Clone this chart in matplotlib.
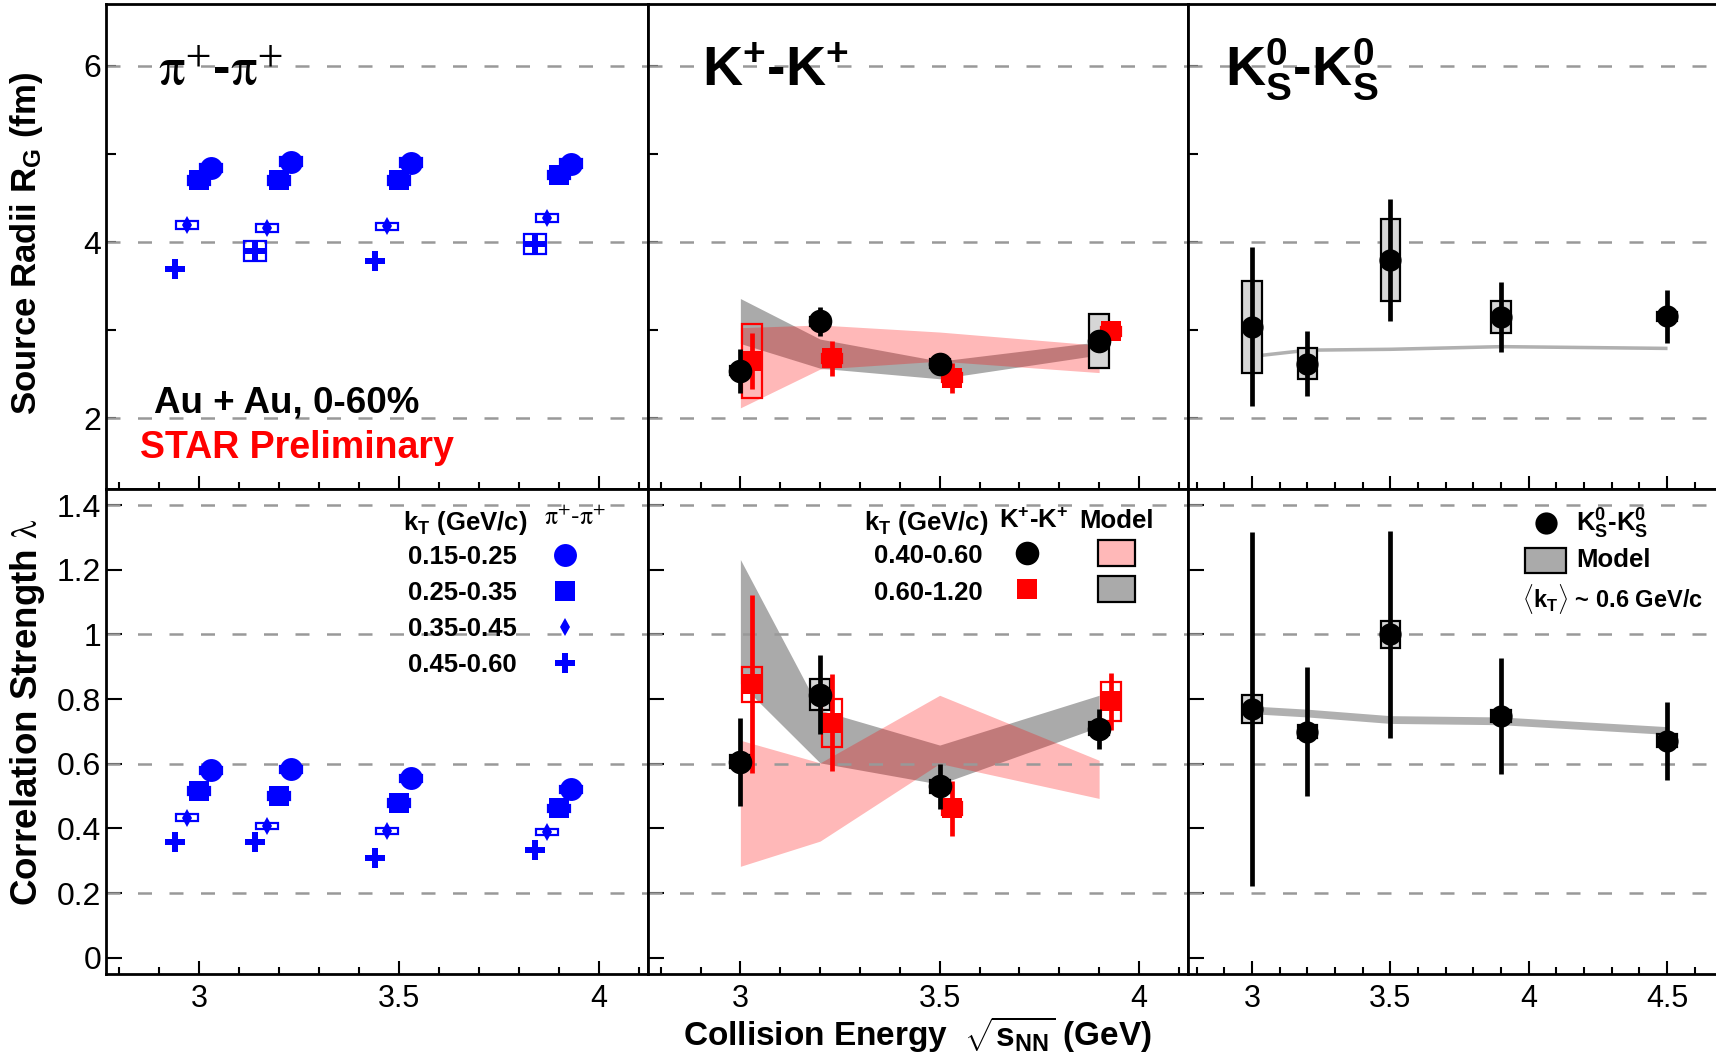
import numpy as np
import matplotlib.pyplot as plt
from matplotlib.patches import Rectangle

plt.rcParams['font.family'] = ['Liberation Sans', 'DejaVu Sans']
plt.rcParams['mathtext.fontset'] = 'custom'
plt.rcParams['mathtext.rm'] = 'Liberation Sans:bold'
plt.rcParams['mathtext.it'] = 'Liberation Sans:bold:italic'
plt.rcParams['mathtext.bf'] = 'Liberation Sans:bold'
plt.rcParams['mathtext.sf'] = 'Liberation Sans:bold'

# collision energies (GeV)
energy = np.array([3.0, 3.2, 3.5, 3.9])
energy_k0 = np.array([3.0, 3.2, 3.5, 3.9, 4.5])

# pi+pi+ : kT bins, source radius R_G (fm) and lambda
kt_pi = ['0.15-0.25', '0.25-0.35', '0.35-0.45', '0.45-0.60']
pi_R_1 = [4.84, 4.91, 4.90, 4.89]
pi_R_2 = [4.70, 4.70, 4.70, 4.76]
pi_R_3 = [4.19, 4.16, 4.18, 4.27]
pi_R_4 = [3.69, 3.90, 3.79, 3.98]
pi_R_sys_1 = [0.05, 0.05, 0.05, 0.05]
pi_R_sys_2 = [0.05, 0.05, 0.05, 0.05]
pi_R_sys_3 = [0.045, 0.045, 0.04, 0.045]
pi_R_sys_4 = [0.0, 0.11, 0.0, 0.11]
pi_L_1 = [0.580, 0.583, 0.555, 0.521]
pi_L_2 = [0.515, 0.501, 0.479, 0.462]
pi_L_3 = [0.434, 0.408, 0.393, 0.389]
pi_L_4 = [0.359, 0.359, 0.309, 0.332]
pi_L_sys_1 = [0.01, 0.01, 0.01, 0.01]
pi_L_sys_2 = [0.012, 0.012, 0.012, 0.012]
pi_L_sys_3 = [0.010, 0.010, 0.010, 0.010]
pi_L_sys_4 = [0.0, 0.0, 0.0, 0.0]

# K+K+ : kT 0.40-0.60 (black) and 0.60-1.20 (red)
kt_k = ['0.40-0.60', '0.60-1.20']
kb_R = [2.54, 3.10, 2.62, 2.88]
kb_R_stat = [0.25, 0.165, 0.10, 0.08]
kb_R_sys = [0.05, 0.05, 0.05, 0.31]
kr_R = [2.65, 2.68, 2.46, 2.99]
kr_R_stat = [0.32, 0.20, 0.17, 0.08]
kr_R_sys = [0.42, 0.05, 0.05, 0.05]
kb_L = [0.606, 0.814, 0.531, 0.709]
kb_L_stat = [0.137, 0.122, 0.07, 0.062]
kb_L_sys = [0.02, 0.047, 0.02, 0.02]
kr_L = [0.846, 0.727, 0.462, 0.794]
kr_L_stat = [0.275, 0.15, 0.084, 0.088]
kr_L_sys = [0.054, 0.075, 0.02, 0.06]

# K+K+ model bands
mod_lo_R_lo = [2.12, 2.56, 2.65, 2.52]   # kT 0.40-0.60
mod_lo_R_hi = [3.03, 3.06, 2.98, 2.83]
mod_hi_R_lo = [2.85, 2.57, 2.45, 2.72]   # kT 0.60-1.20
mod_hi_R_hi = [3.36, 2.90, 2.65, 2.87]
mod_lo_L_lo = [0.283, 0.361, 0.601, 0.493]
mod_lo_L_hi = [0.673, 0.603, 0.812, 0.611]
mod_hi_L_lo = [0.848, 0.603, 0.537, 0.714]
mod_hi_L_hi = [1.232, 0.766, 0.658, 0.812]

# K0s K0s
k0_R = [3.04, 2.62, 3.80, 3.15, 3.16]
k0_R_stat = [0.90, 0.37, 0.69, 0.40, 0.30]
k0_R_sys = [0.52, 0.175, 0.465, 0.177, 0.05]
k0_L = [0.769, 0.699, 1.00, 0.748, 0.671]
k0_L_stat = [0.548, 0.199, 0.319, 0.179, 0.12]
k0_L_sys = [0.043, 0.02, 0.042, 0.02, 0.02]
k0_R_model = [2.71, 2.78, 2.79, 2.82, 2.80]
k0_L_model = [0.767, 0.757, 0.737, 0.733, 0.703]

W, H = 1716, 1052
fig = plt.figure(figsize=(W / 100, H / 100), dpi=100)


def px(x):
    return x / W


def py(y):
    return 1 - y / H


cols = [(105.5, 542), (647.5, 540.5), (1188, 541)]
rows = [(4, 485), (489, 485)]
xlims = [(2.766, 4.122), (2.767, 4.123), (2.769, 4.724)]
xmajor = [[3, 3.5, 4], [3, 3.5, 4], [3, 3.5, 4, 4.5]]

axes = [[None] * 3 for _ in range(2)]
for r, (top, h) in enumerate(rows):
    for c, (left, w) in enumerate(cols):
        ax = fig.add_axes([px(left), py(top + h), w / W, h / H])
        ax.set_xlim(*xlims[c])
        if r == 0:
            ax.set_ylim(1.2, 6.7)
            ax.set_yticks([2, 3, 4, 5, 6])
            ax.set_yticklabels(['2', '', '4', '', '6'] if c == 0 else [''] * 5)
            ylen = 7.5
            grid = [2, 4, 6]
        else:
            ax.set_ylim(-0.05, 1.45)
            yt = [0, 0.2, 0.4, 0.6, 0.8, 1.0, 1.2, 1.4]
            ax.set_yticks(yt)
            ax.set_yticklabels(['0', '0.2', '0.4', '0.6', '0.8', '1', '1.2', '1.4']
                               if c == 0 else [''] * len(yt))
            ylen = 11.5
            grid = [0.2, 0.6, 1.0, 1.4]
        ax.set_xticks(xmajor[c])
        ax.set_xticklabels([('%g' % v) for v in xmajor[c]] if r == 1 else [''] * len(xmajor[c]))
        ax.set_xticks(np.round(np.arange(2.8, xlims[c][1], 0.1), 2), minor=True)
        ax.tick_params(axis='x', which='major', direction='in', length=9.5, width=1.5,
                       top=False, labelsize=22, pad=7)
        ax.tick_params(axis='x', which='minor', direction='in', length=5, width=1.5, top=False)
        ax.tick_params(axis='y', which='major', direction='in', length=ylen, width=1.5,
                       right=False, labelsize=23, pad=3)
        for s in ax.spines.values():
            s.set_linewidth(2)
        for g in grid:
            ax.axhline(g, color='#999999', lw=1.8, dashes=(5.6, 7.0), zorder=2)
        axes[r][c] = ax


def draw_sys(ax, x, y, dy, half, edge, face='none', z=3):
    for xi, yi, di in zip(x, y, dy):
        if di > 0:
            ax.add_patch(Rectangle((xi - half, yi - di), 2 * half, 2 * di,
                                   facecolor=face, edgecolor=edge, lw=1.6, zorder=z))


# pi+pi+ panels
pi_shift = [0.03, 0.0, -0.03, -0.06]
pi_marks = [('o', 16.5), ('s', 14.4), ('d', 9.2), ('P', 14.4)]
pi_R = [pi_R_1, pi_R_2, pi_R_3, pi_R_4]
pi_R_sys = [pi_R_sys_1, pi_R_sys_2, pi_R_sys_3, pi_R_sys_4]
pi_L = [pi_L_1, pi_L_2, pi_L_3, pi_L_4]
pi_L_sys = [pi_L_sys_1, pi_L_sys_2, pi_L_sys_3, pi_L_sys_4]
for (mk, ms), dx, rv, rs, lv, ls in zip(pi_marks, pi_shift, pi_R, pi_R_sys, pi_L, pi_L_sys):
    xs = energy + dx
    draw_sys(axes[0][0], xs, rv, rs, 0.027, 'blue')
    draw_sys(axes[1][0], xs, lv, ls, 0.027, 'blue')
    axes[0][0].plot(xs, rv, mk, ms=ms, color='blue', mew=0, zorder=4)
    axes[1][0].plot(xs, lv, mk, ms=ms, color='blue', mew=0, zorder=4)

# K+K+ panels
kpanels = [
    (axes[0][1], kb_R, kb_R_stat, kb_R_sys, kr_R, kr_R_stat, kr_R_sys,
     mod_lo_R_lo, mod_lo_R_hi, mod_hi_R_lo, mod_hi_R_hi),
    (axes[1][1], kb_L, kb_L_stat, kb_L_sys, kr_L, kr_L_stat, kr_L_sys,
     mod_lo_L_lo, mod_lo_L_hi, mod_hi_L_lo, mod_hi_L_hi),
]
for ax, bv, bst, bsy, rv, rst, rsy, plo, phi, glo, ghi in kpanels:
    ax.fill_between(energy, glo, ghi, color='#aaaaaa', lw=0, zorder=1)
    ax.fill_between(energy, plo, phi, color='red', alpha=0.28, lw=0, zorder=1.5)
    draw_sys(ax, energy, bv, bsy, 0.025, 'black', '#d6d6d6')
    draw_sys(ax, energy + 0.03, rv, rsy, 0.025, 'red')
    ax.errorbar(energy + 0.03, rv, yerr=rst, fmt='s', ms=15, color='red', mew=0,
                elinewidth=3.4, capsize=0, zorder=4)
    ax.errorbar(energy, bv, yerr=bst, fmt='o', ms=17, color='black', mew=0,
                elinewidth=3.4, capsize=0, zorder=5)

# K0s K0s panels
for ax, v, st, sy, mod, hw in [(axes[0][2], k0_R, k0_R_stat, k0_R_sys, k0_R_model, 0.02),
                               (axes[1][2], k0_L, k0_L_stat, k0_L_sys, k0_L_model, 0.012)]:
    mod = np.array(mod)
    ax.fill_between(energy_k0, mod - hw, mod + hw, color='#b0b0b0', lw=0, zorder=1)
    draw_sys(ax, energy_k0, v, sy, 0.035, 'black', '#d6d6d6')
    ax.errorbar(energy_k0, v, yerr=st, fmt='o', ms=16, color='black', mew=0,
                elinewidth=3.4, capsize=0, zorder=5)

# panel titles and labels
fig.text(px(158), py(85), r'$\mathrm{\pi}^{+}$-$\mathrm{\pi}^{+}$', fontsize=38,
         fontweight='bold', math_fontfamily='stix', va='baseline')
fig.text(px(702), py(85), r'K$^{+}$-K$^{+}$', fontsize=40, fontweight='bold', va='baseline')
fig.text(px(1225), py(86), r'$\mathrm{K}^{0}_{\mathrm{S}}$-$\mathrm{K}^{0}_{\mathrm{S}}$',
         fontsize=40, fontweight='bold', va='baseline')
fig.text(px(154), py(413), 'Au + Au, 0-60%', fontsize=26.5, fontweight='bold', va='baseline')
fig.text(px(140), py(458), 'STAR Preliminary', fontsize=27, fontweight='bold',
         color='red', va='baseline')

fig.text(px(27), py(244), r'Source Radii R$_{\mathrm{G}}$ (fm)', fontsize=25,
         fontweight='bold', rotation=90, ha='center', va='center')
fig.text(px(28), py(712), r'Correlation Strength $\mathrm{\lambda}$', fontsize=26.5,
         fontweight='bold', rotation=90, ha='center', va='center', math_fontfamily='stix')
fig.text(px(918), py(1046), r'Collision Energy  $\sqrt{\mathrm{s}_{\mathrm{NN}}}$ (GeV)',
         fontsize=24, fontweight='bold', ha='center', va='baseline')

# pi+pi+ legend
lfs = 18.5
fig.text(px(403), py(530), r'k$_{\mathrm{T}}$ (GeV/c)', fontsize=lfs, fontweight='bold',
         va='baseline')
fig.text(px(544), py(525), r'$\mathrm{\pi}^{+}$-$\mathrm{\pi}^{+}$', fontsize=lfs,
         math_fontfamily='stix', va='baseline')
leg_pi_y = [555, 591, 627, 663]
for lab, (mk, ms), yy in zip(kt_pi, pi_marks, leg_pi_y):
    fig.text(px(407.6), py(yy + 8.5), lab, fontsize=lfs, fontweight='bold', va='baseline')
    axes[1][0].plot([px(565)], [py(yy)], mk, ms=ms, color='blue', mew=0,
                    transform=fig.transFigure, clip_on=False, zorder=6)

# K+K+ legend
fig.text(px(864), py(530), r'k$_{\mathrm{T}}$ (GeV/c)', fontsize=lfs, fontweight='bold',
         va='baseline')
fig.text(px(999), py(528), r'K$^{+}$-K$^{+}$', fontsize=lfs, fontweight='bold', va='baseline')
fig.text(px(1079.5), py(528), 'Model', fontsize=lfs, fontweight='bold', va='baseline')
fig.text(px(873.7), py(563.3), kt_k[0], fontsize=lfs, fontweight='bold', va='baseline')
fig.text(px(873.7), py(600), kt_k[1], fontsize=lfs, fontweight='bold', va='baseline')
axes[1][1].plot([px(1027.3)], [py(553.3)], 'o', ms=17, color='black', mew=0,
                transform=fig.transFigure, clip_on=False, zorder=6)
axes[1][1].plot([px(1027.3)], [py(589)], 's', ms=15, color='red', mew=0,
                transform=fig.transFigure, clip_on=False, zorder=6)
fig.add_artist(Rectangle((px(1097.6), py(566)), px(37.5), 26 / H, transform=fig.transFigure,
                         facecolor=(1, 0, 0, 0.28), edgecolor='black', lw=1.6))
fig.add_artist(Rectangle((px(1097.6), py(601.7)), px(37.5), 25.7 / H, transform=fig.transFigure,
                         facecolor='#aaaaaa', edgecolor='black', lw=1.6))

# K0s K0s legend
axes[1][2].plot([px(1545.6)], [py(523.3)], 'o', ms=16, color='black', mew=0,
                transform=fig.transFigure, clip_on=False, zorder=6)
fig.text(px(1576), py(531.7), r'$\mathrm{K}^{0}_{\mathrm{S}}$-$\mathrm{K}^{0}_{\mathrm{S}}$',
         fontsize=lfs, fontweight='bold', va='baseline')
fig.add_artist(Rectangle((px(1524.7), py(572.7)), px(41.3), 25 / H, transform=fig.transFigure,
                         facecolor='#aaaaaa', edgecolor='black', lw=1.6))
fig.text(px(1576), py(567.3), 'Model', fontsize=lfs, fontweight='bold', va='baseline')
fig.text(px(1522), py(607.7), r'$\langle\mathrm{k}_{\mathrm{T}}\rangle$ ~ 0.6 GeV/c',
         fontsize=17, fontweight='bold', va='baseline')

fig.savefig('out.png', dpi=100)
